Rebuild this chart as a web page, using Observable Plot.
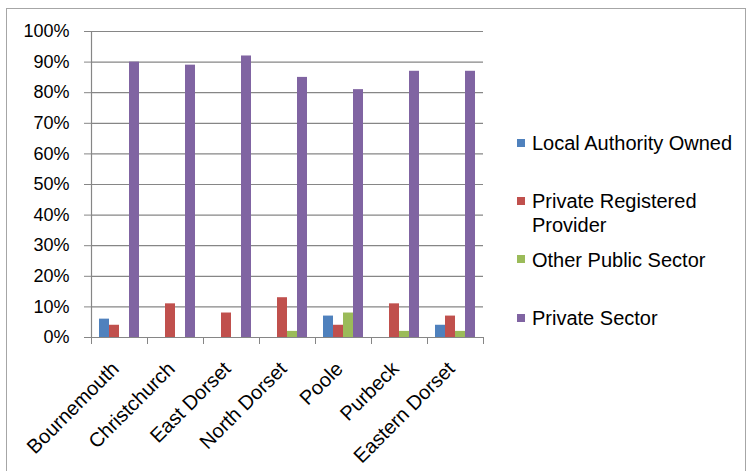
<!DOCTYPE html>
<html>
<head>
<meta charset="utf-8">
<script src="https://cdn.jsdelivr.net/npm/d3@7"></script>
<script src="https://cdn.jsdelivr.net/npm/@observablehq/plot@0.6"></script>
<style>
  html, body { margin: 0; padding: 0; background: #fff; }
  #wrap { position: relative; width: 750px; height: 471px; overflow: hidden; font-family: "Liberation Sans", Arial, sans-serif; }
  #border { position: absolute; left: 6px; top: 8px; width: 740px; height: 480px; border: 1.5px solid #a6a6a6; box-sizing: border-box; }
  #legend { position: absolute; left: 517px; top: 0; }
  .item { position: absolute; white-space: nowrap; font-size: 20px; color: #000; line-height: 24px; }
  .sw { position: absolute; width: 8px; height: 8px; }
  svg { position: absolute; left: 0; top: 0; }
</style>
</head>
<body>
<div id="wrap"><div id="border"></div><div id="legend"></div></div>
<script>
const categories = ["Bournemouth", "Christchurch", "East Dorset", "North Dorset", "Poole", "Purbeck", "Eastern Dorset"];
const seriesNames = ["Local Authority Owned", "Private Registered Provider", "Other Public Sector", "Private Sector"];
const seriesColors = ["#4F81BD", "#C0504D", "#9BBB59", "#8064A2"];
const localAuthorityOwned = [6, 0, 0, 0, 7, 0, 4];
const privateRegisteredProvider = [4, 11, 8, 13, 4, 11, 7];
const otherPublicSector = [0, 0, 0, 2, 8, 2, 2];
const privateSector = [90, 89, 92, 85, 81, 87, 87];
const yTicks = [0, 10, 20, 30, 40, 50, 60, 70, 80, 90, 100];

const seriesValues = [localAuthorityOwned, privateRegisteredProvider, otherPublicSector, privateSector];
const rows = [];
categories.forEach((c, i) => {
  seriesValues.forEach((vals, s) => {
    rows.push({cat: c, i, s, series: seriesNames[s], value: vals[i]});
  });
});

// bar layout within each category slot (fractions of a slot)
const groupPad = 8 / 56;
const barW = 10 / 56;

const grid = "#868686";
const chart = Plot.plot({
  width: 750,
  height: 471,
  marginLeft: 91,
  marginRight: 267,
  marginTop: 31,
  marginBottom: 134,
  style: {fontFamily: "'Liberation Sans', Arial, sans-serif", background: "transparent", color: "#000"},
  x: {type: "linear", domain: [0, categories.length]},
  y: {domain: [0, 100]},
  color: {domain: seriesNames, range: seriesColors},
  marks: [
    Plot.ruleY(yTicks, {stroke: grid, strokeWidth: 1.2}),
    Plot.ruleX([0], {stroke: grid, strokeWidth: 1.2}),
    Plot.axisY({ticks: yTicks, tickSize: 7, tickPadding: 15, tickFormat: d => d + "%", fontSize: 18, stroke: grid, color: "#000", label: null}),
    Plot.axisX({ticks: d3.range(categories.length + 1), tickSize: 7, tickFormat: () => "", stroke: grid, label: null}),
    Plot.rectY(rows, {
      x1: d => d.i + groupPad + d.s * barW,
      x2: d => d.i + groupPad + (d.s + 1) * barW,
      y1: 0,
      y2: "value",
      fill: "series"
    }),
    Plot.text(categories, {
      x: (d, i) => i + 0.5,
      y: 0,
      text: d => d,
      rotate: -45,
      textAnchor: "end",
      dx: -4,
      dy: 28,
      fontSize: 20,
      fill: "#000"
    })
  ]
});
document.getElementById("wrap").appendChild(chart);

// legend
const legendRows = [
  {lines: ["Local Authority Owned"], top: 131, sw: 139},
  {lines: ["Private Registered", "Provider"], top: 189, sw: 197},
  {lines: ["Other Public Sector"], top: 248, sw: 255},
  {lines: ["Private Sector"], top: 306, sw: 314}
];
const legend = document.getElementById("legend");
legendRows.forEach((r, k) => {
  const sw = document.createElement("div");
  sw.className = "sw";
  sw.style.left = "0px";
  sw.style.top = r.sw + "px";
  sw.style.background = seriesColors[k];
  legend.appendChild(sw);
  const t = document.createElement("div");
  t.className = "item";
  t.style.left = "15px";
  t.style.top = r.top + "px";
  t.innerHTML = r.lines.join("<br>");
  legend.appendChild(t);
});
</script>
</body>
</html>
